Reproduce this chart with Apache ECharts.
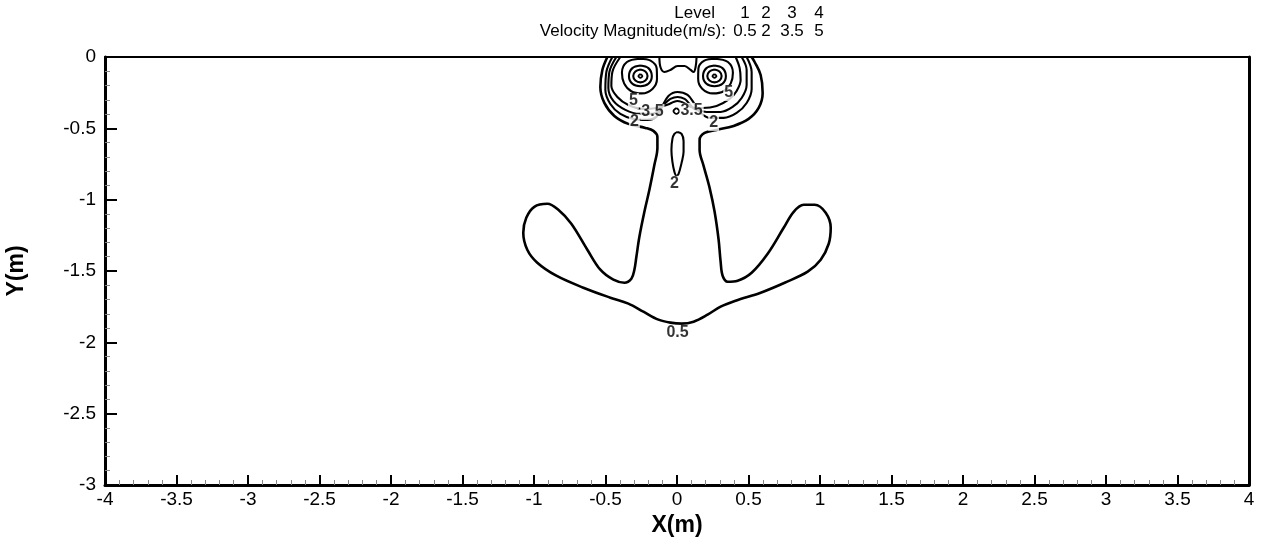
<!DOCTYPE html>
<html>
<head>
<meta charset="utf-8">
<script src="https://cdn.jsdelivr.net/npm/echarts@6/dist/echarts.min.js"></script>
<style>html,body{margin:0;padding:0;background:#fff}#c{width:1261px;height:540px}</style>
</head>
<body>
<div id="c"></div>
<script>
// ---- data (X, Y in metres) ----
var levelNumbers = ['1', '2', '3', '4'];
var levelValues = ['0.5', '2', '3.5', '5'];

// level 0.5 outer contour
var contour05 = [[-0.487,0],[-0.522,-0.091],[-0.536,-0.21],[-0.508,-0.322],[-0.438,-0.413],[-0.34,-0.469],[-0.221,-0.497],[-0.165,-0.518],[-0.137,-0.56],[-0.137,-0.637],[-0.158,-0.756],[-0.193,-0.931],[-0.228,-1.085],[-0.263,-1.26],[-0.284,-1.40],[-0.298,-1.491],[-0.319,-1.554],[-0.368,-1.582],[-0.445,-1.561],[-0.536,-1.491],[-0.627,-1.351],[-0.739,-1.169],[-0.83,-1.071],[-0.907,-1.029],[-0.998,-1.05],[-1.054,-1.127],[-1.075,-1.232],[-1.047,-1.351],[-0.977,-1.442],[-0.844,-1.533],[-0.655,-1.617],[-0.466,-1.687],[-0.34,-1.729],[-0.235,-1.785],[-0.13,-1.841],[-0.046,-1.862],[0.032,-1.869],[0.116,-1.855],[0.214,-1.806],[0.305,-1.75],[0.41,-1.708],[0.585,-1.652],[0.753,-1.582],[0.914,-1.505],[1.005,-1.421],[1.061,-1.309],[1.075,-1.197],[1.04,-1.092],[0.963,-1.036],[0.886,-1.036],[0.816,-1.085],[0.746,-1.197],[0.634,-1.379],[0.522,-1.512],[0.424,-1.568],[0.354,-1.575],[0.319,-1.533],[0.305,-1.435],[0.291,-1.281],[0.263,-1.085],[0.228,-0.917],[0.186,-0.763],[0.158,-0.651],[0.158,-0.581],[0.193,-0.532],[0.277,-0.511],[0.396,-0.483],[0.501,-0.434],[0.571,-0.357],[0.599,-0.252],[0.585,-0.126],[0.543,-0.035],[0.522,0]];

// level 2 closed loop in the stem
var contour2Stem = [[0.004,-0.525],[0.032,-0.539],[0.046,-0.588],[0.046,-0.665],[0.032,-0.742],[0.011,-0.819],[-0.004,-0.833],[-0.018,-0.805],[-0.032,-0.735],[-0.039,-0.651],[-0.032,-0.574],[-0.018,-0.539],[0.004,-0.525]];

// head contours
var contour2Head = [[-0.452,0],[-0.494,-0.105],[-0.501,-0.231],[-0.466,-0.329],[-0.396,-0.399],[-0.305,-0.434],[-0.207,-0.441],[-0.144,-0.42],[-0.109,-0.357],[-0.06,-0.273],[0.004,-0.245],[0.074,-0.266],[0.123,-0.329],[0.165,-0.392],[0.235,-0.427],[0.326,-0.427],[0.417,-0.392],[0.487,-0.322],[0.522,-0.224],[0.522,-0.105],[0.487,0]];
var contour35Head = [[-0.424,0],[-0.473,-0.105],[-0.48,-0.217],[-0.445,-0.308],[-0.361,-0.371],[-0.263,-0.399],[-0.172,-0.399],[-0.123,-0.371],[-0.088,-0.329],[-0.046,-0.294],[0.004,-0.28],[0.053,-0.294],[0.088,-0.329],[0.123,-0.364],[0.207,-0.385],[0.305,-0.385],[0.389,-0.35],[0.452,-0.287],[0.487,-0.196],[0.487,-0.091],[0.452,0]];
var contour5Head = [[-0.396,0],[-0.452,-0.105],[-0.459,-0.203],[-0.417,-0.28],[-0.34,-0.336],[-0.228,-0.364],[-0.144,-0.357],[-0.095,-0.343],[-0.053,-0.329],[-0.025,-0.315],[0.004,-0.308],[0.032,-0.315],[0.06,-0.329],[0.095,-0.35],[0.179,-0.357],[0.277,-0.343],[0.368,-0.294],[0.417,-0.238],[0.445,-0.161],[0.438,-0.077],[0.41,0]];
var contourTopBump = [[-0.123,0],[-0.116,-0.07],[-0.088,-0.105],[-0.046,-0.091],[0.004,-0.063],[0.053,-0.063],[0.095,-0.091],[0.116,-0.105],[0.13,-0.07],[0.137,0]];
var contourCentreLoop = [[-0.004,-0.357],[0.017,-0.378],[-0.004,-0.399],[-0.025,-0.378],[-0.004,-0.357]];

// left eye rings
var leftEyeA = [[-0.256,-0.119],[-0.242,-0.133],[-0.256,-0.147],[-0.27,-0.133],[-0.256,-0.119]];
var leftEyeB = [[-0.256,-0.088],[-0.221,-0.101],[-0.206,-0.133],[-0.221,-0.165],[-0.256,-0.178],[-0.291,-0.165],[-0.306,-0.133],[-0.291,-0.101],[-0.256,-0.088]];
var leftEyeC = [[-0.256,-0.06],[-0.2,-0.078],[-0.176,-0.133],[-0.2,-0.188],[-0.256,-0.205],[-0.312,-0.188],[-0.336,-0.133],[-0.312,-0.078],[-0.256,-0.06]];
var leftEyeD = [[-0.26,-0.012],[-0.185,-0.025],[-0.142,-0.08],[-0.14,-0.155],[-0.17,-0.222],[-0.245,-0.255],[-0.32,-0.24],[-0.37,-0.185],[-0.385,-0.11],[-0.35,-0.035],[-0.26,-0.012]];
// right eye rings
var rightEyeA = [[0.262,-0.119],[0.276,-0.133],[0.262,-0.147],[0.248,-0.133],[0.262,-0.119]];
var rightEyeB = [[0.262,-0.088],[0.297,-0.101],[0.312,-0.133],[0.297,-0.165],[0.262,-0.178],[0.227,-0.165],[0.212,-0.133],[0.227,-0.101],[0.262,-0.088]];
var rightEyeC = [[0.262,-0.06],[0.318,-0.078],[0.342,-0.133],[0.318,-0.188],[0.262,-0.205],[0.206,-0.188],[0.182,-0.133],[0.206,-0.078],[0.262,-0.06]];
var rightEyeD = [[0.266,-0.012],[0.191,-0.025],[0.15,-0.08],[0.148,-0.155],[0.176,-0.222],[0.251,-0.255],[0.326,-0.24],[0.376,-0.185],[0.391,-0.11],[0.356,-0.035],[0.266,-0.012]];

// contour labels [x, y, text]
var contourLabels = [[0.004,-1.934,'0.5'],[-0.018,-0.889,'2'],[-0.298,-0.455,'2'],[0.256,-0.462,'2'],[-0.172,-0.385,'3.5'],[0.102,-0.378,'3.5'],[-0.305,-0.308,'5'],[0.361,-0.252,'5']];

var xTicks = {min: -4, max: 4, step: 0.5};
var yTicks = {min: -3, max: 0, step: 0.5};

// ---- chart ----
var FONT = '"Liberation Sans", Arial, Helvetica, sans-serif';
var chart = echarts.init(document.getElementById('c'), null, {renderer: 'canvas'});

function lineSeries(data, width) {
  return {
    type: 'line', data: data, showSymbol: false, symbol: 'none', smooth: 0.35,
    lineStyle: {color: '#000', width: width}, silent: true, animation: false, z: 3
  };
}
var contourSets = [
  [contour05, 2.6], [contour2Stem, 2.1], [contour2Head, 2.1], [contour35Head, 2.1], [contour5Head, 2.1],
  [contourTopBump, 2.1], [contourCentreLoop, 1.8],
  [leftEyeA, 1.8], [leftEyeB, 2.1], [leftEyeC, 2.1], [leftEyeD, 2.1],
  [rightEyeA, 1.8], [rightEyeB, 2.1], [rightEyeC, 2.1], [rightEyeD, 2.1]
];
var series = contourSets.map(function (s) { return lineSeries(s[0], s[1]); });
series.push({
  type: 'scatter', data: contourLabels, symbolSize: 0, silent: true, animation: false, z: 5,
  label: {
    show: true, position: 'inside', formatter: function (p) { return p.value[2]; },
    color: '#000', fontWeight: 'bold', fontSize: 16, fontFamily: FONT,
    textBorderWidth: 0, textBorderColor: 'transparent',
    backgroundColor: '#fff', padding: [0, 1, 0, 1]
  }
});

var HF = '17px ' + FONT;
var headerGraphics = [];
headerGraphics.push({type: 'text', x: 715, y: 13, style: {text: 'Level', font: HF, fill: '#000', textAlign: 'right', textVerticalAlign: 'middle'}});
headerGraphics.push({type: 'text', x: 726, y: 31, style: {text: 'Velocity Magnitude(m/s):', font: HF, fill: '#000', textAlign: 'right', textVerticalAlign: 'middle'}});
var colX = [745, 766, 792, 819];
levelNumbers.forEach(function (t, i) {
  headerGraphics.push({type: 'text', x: colX[i], y: 13, style: {text: t, font: HF, fill: '#000', textAlign: 'center', textVerticalAlign: 'middle'}});
});
levelValues.forEach(function (t, i) {
  headerGraphics.push({type: 'text', x: colX[i], y: 31, style: {text: t, font: HF, fill: '#000', textAlign: 'center', textVerticalAlign: 'middle'}});
});

var option = {
  backgroundColor: '#fff',
  animation: false,
  textStyle: {fontFamily: FONT},
  grid: {left: 105, right: 12, top: 57, bottom: 55, containLabel: false, outerBoundsMode: 'none'},
  xAxis: [{
    type: 'value', min: xTicks.min, max: xTicks.max, interval: xTicks.step,
    name: 'X(m)', nameLocation: 'middle', nameGap: 25,
    nameTextStyle: {fontSize: 23, fontWeight: 'bold', color: '#000', fontFamily: FONT},
    axisLine: {show: true, onZero: false, lineStyle: {color: '#000', width: 3}},
    axisTick: {show: true, inside: true, length: 10, lineStyle: {color: '#000', width: 2}},
    minorTick: {show: true, splitNumber: 5, length: 5, lineStyle: {color: '#888', width: 1}},
    axisLabel: {fontSize: 19, color: '#000', margin: 5, fontFamily: FONT},
    splitLine: {show: false}
  }, {
    type: 'value', position: 'top', min: xTicks.min, max: xTicks.max,
    axisLine: {show: true, onZero: false, lineStyle: {color: '#000', width: 2}},
    axisTick: {show: false}, axisLabel: {show: false}, splitLine: {show: false}
  }],
  yAxis: [{
    type: 'value', min: yTicks.min, max: yTicks.max, interval: yTicks.step,
    name: 'Y(m)', nameLocation: 'middle', nameGap: 77, nameRotate: 90,
    nameTextStyle: {fontSize: 23, fontWeight: 'bold', color: '#000', fontFamily: FONT},
    axisLine: {show: true, onZero: false, lineStyle: {color: '#000', width: 3}},
    axisTick: {show: true, inside: true, length: 12, lineStyle: {color: '#000', width: 2}},
    minorTick: {show: true, splitNumber: 5, length: 5, lineStyle: {color: '#888', width: 1}},
    axisLabel: {fontSize: 19, color: '#000', margin: 9, fontFamily: FONT},
    splitLine: {show: false}
  }, {
    type: 'value', position: 'right', min: yTicks.min, max: yTicks.max,
    axisLine: {show: true, onZero: false, lineStyle: {color: '#000', width: 3}},
    axisTick: {show: false}, axisLabel: {show: false}, splitLine: {show: false}
  }],
  graphic: headerGraphics,
  series: series
};
chart.setOption(option);
</script>
</body>
</html>
